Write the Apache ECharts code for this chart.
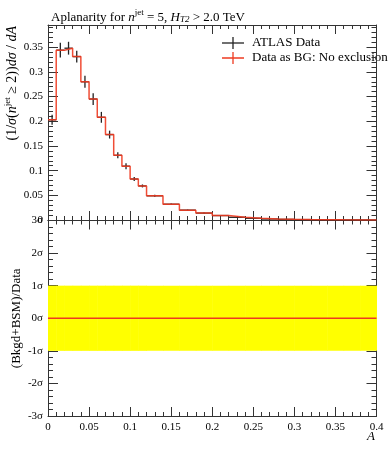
<!DOCTYPE html>
<html><head><meta charset="utf-8">
<script src="https://cdn.jsdelivr.net/npm/echarts@6/dist/echarts.min.js"></script>
<style>html,body{margin:0;padding:0;background:#fff}#c{width:389px;height:450px}</style>
</head><body><div id="c"></div>
<script>
// Bin edges (Aplanarity A)
const binEdges = [0,0.01,0.02,0.03,0.04,0.05,0.06,0.07,0.08,0.09,0.10,0.11,0.12,0.14,0.16,0.18,0.20,0.22,0.24,0.26,0.28,0.30,0.32,0.34,0.36,0.38,0.40];
// ATLAS data (normalised)
const dataValues = [0.203,0.344,0.348,0.331,0.280,0.245,0.208,0.173,0.131,0.109,0.083,0.069,0.049,0.032,0.020,0.014,0.009,0.0055,0.0035,0.0020,0.0013,0.0008,0.0005,0.0003,0.0002,0.0001];
const dataErrors = [0.010,0.015,0.013,0.012,0.012,0.012,0.011,0.008,0.006,0.006,0.004,0.003,0.002,0.0015,0.001,0.001,0.0008,0.0006,0.0005,0.0004,0.0003,0.0002,0.0002,0.0001,0.0001,0.0001];
// Data as BG (identical to data)
const bgValues = dataValues.slice();
// Ratio panel: deviation in sigma and band
const ratioValues = dataValues.map(() => 0);
const bandLow = dataValues.map(() => -1);
const bandHigh = dataValues.map(() => 1);
const xTicks = [0,0.05,0.1,0.15,0.2,0.25,0.3,0.35,0.4];
const sigmaLabels = {'3':'3σ','2':'2σ','1':'1σ','0':'0σ','-1':'-1σ','-2':'-2σ','-3':'-3σ'};

const FONT = '"Liberation Serif", "DejaVu Serif", serif';
const chart = echarts.init(document.getElementById('c'));

function stepPoints(vals){
  const pts = [];
  for (let i = 0; i < vals.length; i++){
    pts.push([binEdges[i], vals[i]]);
    pts.push([binEdges[i+1], vals[i]]);
  }
  return pts;
}
const crossData = dataValues.map((v,i)=>[binEdges[i], binEdges[i+1], v, dataErrors[i]]);
const bandData = bandLow.map((l,i)=>[binEdges[i], binEdges[i+1], l, bandHigh[i]]);

const L = 48, R = 12.5;
const tickStyle = {color:'#333', width:1};
function xAx(grid, pos, labels){
  return {type:'value', gridIndex:grid, position:pos, min:0, max:0.4, interval:0.05,
    axisLine:{show:true, onZero:false, lineStyle:{color:'#333', width:1}},
    axisTick:{show:true, inside:true, length:9, lineStyle:tickStyle},
    minorTick:{show:true, splitNumber:5, length:4, lineStyle:tickStyle},
    splitLine:{show:false},
    axisLabel:{show:labels, color:'#000', fontFamily:FONT, fontSize:11, margin:6,
      formatter: v => (xTicks.some(t=>Math.abs(t-v)<1e-9) ? String(+v.toFixed(2)) : '')}};
}
function yAx(grid, pos, min, max, interval, labels, fmt){
  return {type:'value', gridIndex:grid, position:pos, min:min, max:max, interval:interval,
    axisLine:{show:true, onZero:false, lineStyle:{color:'#333', width:1}},
    axisTick:{show:true, inside:true, length:10, lineStyle:tickStyle},
    minorTick:{show:true, splitNumber:5, length:5, lineStyle:tickStyle},
    splitLine:{show:false},
    axisLabel:{show:labels, color:'#000', fontFamily:FONT, fontSize:11, margin:5, formatter:fmt}};
}
const rt = (extra) => Object.assign({fontFamily:FONT, fontSize:13, color:'#000', fontWeight:'normal', verticalAlign:'bottom', lineHeight:16}, extra||{});

const option = {
  animation:false,
  backgroundColor:'#fff',
  title:{
    text:'{a|Aplanarity for }{i|n}{sup|jet}{a| = 5, }{i|H}{sub|T2}{a| > 2.0 TeV}',
    left:46, top:3,
    textStyle:{fontWeight:'normal', rich:{
      a:rt(), i:rt({fontStyle:'italic'}),
      sup:rt({fontSize:9, verticalAlign:'top'}),
      sub:rt({fontSize:9, fontStyle:'italic', lineHeight:13})
    }}
  },
  grid:[
    {left:L, right:R, top:25, height:195, containLabel:false, outerBoundsMode:'none'},
    {left:L, right:R, top:220.5, height:195.5, containLabel:false, outerBoundsMode:'none'}
  ],
  xAxis:[
    xAx(0,'bottom',false), xAx(0,'top',false),
    xAx(1,'bottom',true), xAx(1,'top',false)
  ],
  yAxis:[
    yAx(0,'left',0,0.395,0.05,true, v => (v>0.351?'':String(+v.toFixed(2)))),
    yAx(0,'right',0,0.395,0.05,false),
    Object.assign(yAx(1,'left',-3,3,1,true, v => sigmaLabels[String(Math.round(v))] || ''),{
      name:'(Bkgd+BSM)/Data', nameLocation:'middle', nameGap:25, nameRotate:90, nameMoveOverlap:false,
      nameTextStyle:{fontFamily:FONT, fontSize:13, color:'#000'}
    }),
    yAx(1,'right',-3,3,1,false)
  ],
  series:[
    {type:'custom', xAxisIndex:2, yAxisIndex:2, z:1, data:bandData,
      renderItem:(p,api)=>{
        const a = api.coord([api.value(0), api.value(3)]);
        const b = api.coord([api.value(1), api.value(2)]);
        return {type:'rect', shape:{x:a[0], y:a[1], width:b[0]-a[0]+0.5, height:b[1]-a[1]},
          style:{fill:'#ffff00'}};
      }},
    {type:'line', xAxisIndex:2, yAxisIndex:2, z:3, data:stepPoints(ratioValues),
      showSymbol:false, lineStyle:{color:'#ee3a20', width:1.5}},
    {type:'custom', xAxisIndex:0, yAxisIndex:0, z:2, data:crossData,
      renderItem:(p,api)=>{
        const lo = api.value(0), hi = api.value(1), v = api.value(2), e = api.value(3);
        const c = (lo+hi)/2;
        const pl = api.coord([lo,v]), ph = api.coord([hi,v]);
        const pt = api.coord([c,v+e]), pb = api.coord([c,v-e]);
        return {type:'group', children:[
          {type:'line', shape:{x1:pl[0],y1:pl[1],x2:ph[0],y2:ph[1]}, style:{stroke:'#222', lineWidth:1.3}},
          {type:'line', shape:{x1:pt[0],y1:pt[1],x2:pb[0],y2:pb[1]}, style:{stroke:'#222', lineWidth:1.3}}
        ]};
      }},
    {type:'line', xAxisIndex:0, yAxisIndex:0, z:3, data:stepPoints(bgValues),
      showSymbol:false, lineStyle:{color:'#ee3a20', width:1.5, opacity:0.9}}
  ],
  graphic:[
    {type:'text', x:3, y:26, rotation:Math.PI/2, style:{
      text:'{a|(1/}{i|σ}{a|(}{i|n}{sup|jet}{a| ≥ 2))}{i|dσ}{a| / }{i|dA}',
      align:'right', verticalAlign:'top',
      rich:{ a:rt({fontSize:14}), i:rt({fontSize:14, fontStyle:'italic'}), sup:rt({fontSize:9, verticalAlign:'top'}) }}},
    {type:'line', shape:{x1:222,y1:43,x2:244,y2:43}, style:{stroke:'#222', lineWidth:1.3}},
    {type:'line', shape:{x1:233,y1:37,x2:233,y2:49}, style:{stroke:'#222', lineWidth:1.3}},
    {type:'text', left:252, top:36, style:{text:'ATLAS Data', fontFamily:FONT, fontSize:13, fill:'#000'}},
    {type:'line', shape:{x1:222,y1:58,x2:244,y2:58}, style:{stroke:'#ee3a20', lineWidth:1.5}},
    {type:'line', shape:{x1:233,y1:52,x2:233,y2:64}, style:{stroke:'#ee3a20', lineWidth:1.3}},
    {type:'text', left:252, top:51, style:{text:'Data as BG: No exclusion', fontFamily:FONT, fontSize:13, fill:'#000'}},
    {type:'text', left:367, top:430, style:{text:'A', fontFamily:FONT, fontSize:13, fontStyle:'italic', fill:'#000'}}
  ]
};
chart.setOption(option);
</script></body></html>
